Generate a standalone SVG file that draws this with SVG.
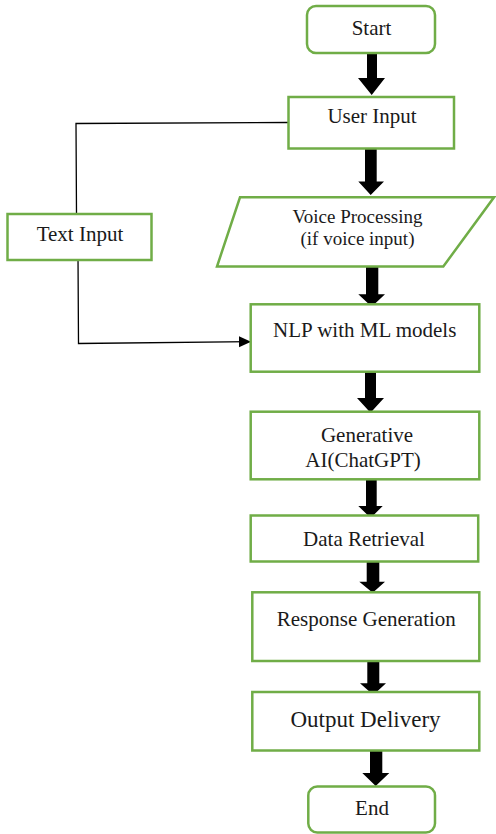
<svg xmlns="http://www.w3.org/2000/svg" width="496" height="834" viewBox="0 0 496 834">
<defs>
<style>
.box{fill:#fff;stroke:#70AD47;stroke-width:2.5}
.t{font-size:21px;fill:#1a1a1a;text-anchor:middle}
.blk{fill:#000}
.ln{fill:none;stroke:#000;stroke-width:1.3}
</style>
<marker id="ah" markerUnits="userSpaceOnUse" markerWidth="14" markerHeight="12" refX="12" refY="5.5" orient="auto">
<path d="M0,0 L12,5.5 L0,11 Z" fill="#000"/>
</marker>
</defs>
<rect width="496" height="834" fill="#fff"/>

<g id="connectors">
<polygon class="blk" points="367,53 377,53 377,78 385,78 371.7,95 358,78 367,78"/>
<polygon class="blk" points="365,149 376.7,149 376.7,181.5 384,181.5 370.7,195 358.3,181.5 365,181.5"/>
<polygon class="blk" points="366,266 378.3,266 378.3,294.3 385,294.3 371.7,306.7 358.3,294.3 366,294.3"/>
<polygon class="blk" points="365,372 376,372 376,398 384,398 370.5,412.7 357,398 365,398"/>
<polygon class="blk" points="366,479 376.7,479 376.7,506 382.7,506 370.7,518 358.3,506 366,506"/>
<polygon class="blk" points="366.7,561 379.3,561 379.3,581.7 385,581.7 372.7,592.7 359.3,581.7 366.7,581.7"/>
<polygon class="blk" points="367.3,661 379.3,661 379.3,683.3 386,683.3 373.3,695 360,683.3 367.3,683.3"/>
<polygon class="blk" points="370,750 382.3,750 382.3,773 389.3,773 375.7,786 362.3,773 370,773"/>
<polyline class="ln" points="288,122.5 76,123.5 76.5,214"/>
<polyline class="ln" points="78,256 78.5,343.5 251,341.7" marker-end="url(#ah)"/>
</g>

<g font-family="Liberation Serif, DejaVu Serif, serif">
<g id="start">
<rect class="box" x="307" y="6" width="128" height="47" rx="9"/>
<text class="t" x="371.5" y="35">Start</text>
</g>
<g id="user-input">
<rect class="box" x="288.5" y="97" width="165.5" height="51.5"/>
<text class="t" x="372" y="123">User Input</text>
</g>
<g id="text-input">
<rect class="box" x="7.5" y="214" width="144" height="46"/>
<text class="t" x="80" y="241">Text Input</text>
</g>
<g id="voice-processing">
<polygon class="box" points="240,197.3 494,197.3 443.3,266.5 217,266.5"/>
<text class="t" font-size="19" style="font-size:19px" x="357.5" y="223">Voice Processing</text>
<text class="t" style="font-size:19px" x="357.5" y="245">(if voice input)</text>
</g>
<g id="nlp">
<rect class="box" x="250.7" y="304.3" width="228.6" height="67.4"/>
<text class="t" x="364.7" y="337">NLP with ML models</text>
</g>
<g id="generative-ai">
<rect class="box" x="250.7" y="411.7" width="228.6" height="67.6"/>
<text class="t" x="367" y="442">Generative</text>
<text class="t" x="363" y="467">AI(ChatGPT)</text>
</g>
<g id="data-retrieval">
<rect class="box" x="250.7" y="515.5" width="227.5" height="46"/>
<text class="t" x="364" y="546">Data Retrieval</text>
</g>
<g id="response-generation">
<rect class="box" x="252.3" y="592.3" width="227" height="68.7"/>
<text class="t" x="366.3" y="626">Response Generation</text>
</g>
<g id="output-delivery">
<rect class="box" x="252.3" y="692" width="227" height="58.5"/>
<text class="t" style="font-size:23px" x="365.5" y="727">Output Delivery</text>
</g>
<g id="end">
<rect class="box" x="308.3" y="786.5" width="126.7" height="46" rx="9"/>
<text class="t" x="372" y="815">End</text>
</g>
</g>
</svg>
